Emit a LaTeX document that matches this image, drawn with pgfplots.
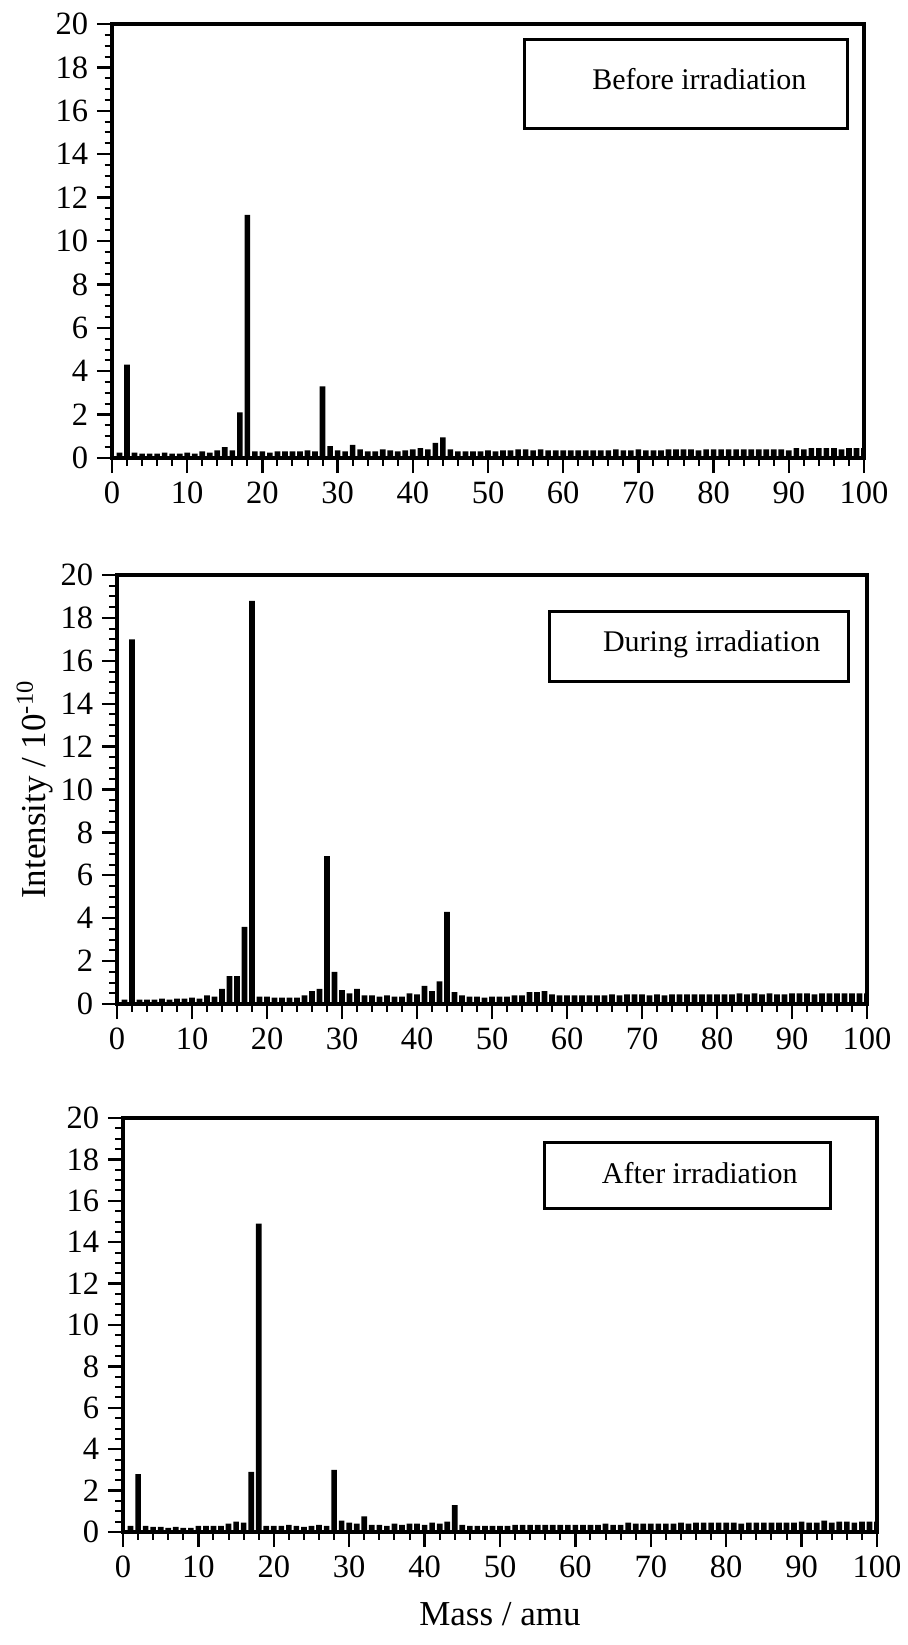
\documentclass[border=0pt]{standalone}
\usepackage{fontspec}
\setmainfont{Liberation Serif}
\usepackage{pgfplots}
\pgfplotsset{compat=1.18}

\pgfplotsset{
  spec/.style={
    scale only axis,
    xmin=0, xmax=100, ymin=0, ymax=20,
    xtick={0,10,...,100}, ytick={0,2,...,20},
    minor x tick num=4, minor y tick num=3,
    tick pos=left, tick align=outside,
    major tick length=6pt, minor tick length=3pt,
    axis line style={line width=1.3pt},
    every tick/.style={black, line width=0.9pt},
    every minor tick/.style={black, line width=0.8pt},
    tick label style={font=\fontsize{13}{15}\selectfont},
    /pgf/number format/assume math mode=true,
    label style={font=\fontsize{14}{16}\selectfont},
    ybar, bar width=0.75,
  },
}
\tikzset{
  tag/.style={draw, line width=1.2pt, anchor=north west, inner sep=0pt},
  peak/.style={black, fill=black, draw=none},
}

\begin{document}
\begin{tikzpicture}
\useasboundingbox (0,0) rectangle (363.2pt,-658pt);

% before irradiation
\begin{axis}[spec, at={(44.8pt,-183.2pt)}, anchor=south west,
  width=300.8pt, height=173.6pt]
\addplot[peak] coordinates {
(1,0.25)(2,4.3)(3,0.25)(4,0.2)(5,0.2)(6,0.2)(7,0.25)(8,0.2)(9,0.2)(10,0.25)
(11,0.2)(12,0.3)(13,0.25)(14,0.35)(15,0.5)(16,0.35)(17,2.1)(18,11.2)(19,0.3)(20,0.3)
(21,0.25)(22,0.3)(23,0.3)(24,0.3)(25,0.3)(26,0.35)(27,0.3)(28,3.3)(29,0.55)(30,0.35)
(31,0.3)(32,0.6)(33,0.4)(34,0.3)(35,0.3)(36,0.4)(37,0.35)(38,0.3)(39,0.35)(40,0.4)
(41,0.45)(42,0.4)(43,0.7)(44,0.95)(45,0.4)(46,0.3)(47,0.3)(48,0.3)(49,0.3)(50,0.35)
(51,0.3)(52,0.35)(53,0.35)(54,0.4)(55,0.4)(56,0.35)(57,0.4)(58,0.35)(59,0.35)(60,0.35)
(61,0.35)(62,0.35)(63,0.35)(64,0.35)(65,0.35)(66,0.35)(67,0.4)(68,0.35)(69,0.35)(70,0.4)
(71,0.35)(72,0.35)(73,0.35)(74,0.4)(75,0.4)(76,0.4)(77,0.4)(78,0.35)(79,0.4)(80,0.4)
(81,0.4)(82,0.4)(83,0.4)(84,0.4)(85,0.4)(86,0.4)(87,0.4)(88,0.4)(89,0.4)(90,0.35)
(91,0.45)(92,0.4)(93,0.45)(94,0.45)(95,0.45)(96,0.45)(97,0.4)(98,0.45)(99,0.45)(100,0.45)
};
\node[tag, minimum width=129.2pt, minimum height=35.6pt] at (rel axis cs:0.547,0.968) {};
\node[font=\fontsize{12}{14}\selectfont] at (rel axis cs:0.781,0.873) {Before irradiation};
\end{axis}

% during irradiation
\begin{axis}[spec, at={(46.8pt,-401.6pt)}, anchor=south west,
  width=300pt, height=171.6pt,
  ylabel={Intensity / 10\textsuperscript{-10}}, ylabel shift=-4pt]
\addplot[peak] coordinates {
(1,0.2)(2,17.0)(3,0.2)(4,0.2)(5,0.2)(6,0.25)(7,0.2)(8,0.25)(9,0.25)(10,0.3)
(11,0.25)(12,0.4)(13,0.35)(14,0.7)(15,1.3)(16,1.3)(17,3.6)(18,18.8)(19,0.35)(20,0.35)
(21,0.3)(22,0.3)(23,0.3)(24,0.3)(25,0.4)(26,0.6)(27,0.7)(28,6.9)(29,1.5)(30,0.65)
(31,0.5)(32,0.7)(33,0.4)(34,0.4)(35,0.35)(36,0.4)(37,0.35)(38,0.35)(39,0.5)(40,0.45)
(41,0.85)(42,0.6)(43,1.05)(44,4.3)(45,0.55)(46,0.4)(47,0.35)(48,0.35)(49,0.3)(50,0.35)
(51,0.35)(52,0.35)(53,0.4)(54,0.4)(55,0.55)(56,0.55)(57,0.6)(58,0.45)(59,0.4)(60,0.4)
(61,0.4)(62,0.4)(63,0.4)(64,0.4)(65,0.4)(66,0.45)(67,0.4)(68,0.45)(69,0.45)(70,0.45)
(71,0.4)(72,0.45)(73,0.4)(74,0.45)(75,0.45)(76,0.45)(77,0.45)(78,0.45)(79,0.45)(80,0.45)
(81,0.45)(82,0.45)(83,0.5)(84,0.45)(85,0.5)(86,0.45)(87,0.5)(88,0.45)(89,0.45)(90,0.5)
(91,0.5)(92,0.5)(93,0.45)(94,0.5)(95,0.5)(96,0.5)(97,0.5)(98,0.5)(99,0.5)(100,0.5)
};
\node[tag, minimum width=119.6pt, minimum height=28pt] at (rel axis cs:0.575,0.918) {};
\node[font=\fontsize{12}{14}\selectfont] at (rel axis cs:0.793,0.838) {During irradiation};
\end{axis}

% after irradiation
\begin{axis}[spec, at={(49.2pt,-612.8pt)}, anchor=south west,
  width=301.6pt, height=165.6pt,
  xlabel={Mass / amu}, xlabel style={yshift=-3pt}]
\addplot[peak] coordinates {
(1,0.3)(2,2.8)(3,0.3)(4,0.25)(5,0.25)(6,0.2)(7,0.25)(8,0.2)(9,0.2)(10,0.3)
(11,0.3)(12,0.3)(13,0.3)(14,0.4)(15,0.5)(16,0.45)(17,2.9)(18,14.9)(19,0.3)(20,0.3)
(21,0.3)(22,0.35)(23,0.3)(24,0.25)(25,0.3)(26,0.35)(27,0.3)(28,3.0)(29,0.55)(30,0.45)
(31,0.4)(32,0.75)(33,0.35)(34,0.35)(35,0.3)(36,0.4)(37,0.35)(38,0.4)(39,0.4)(40,0.35)
(41,0.45)(42,0.4)(43,0.5)(44,1.3)(45,0.35)(46,0.3)(47,0.3)(48,0.3)(49,0.3)(50,0.3)
(51,0.3)(52,0.35)(53,0.35)(54,0.35)(55,0.35)(56,0.35)(57,0.35)(58,0.35)(59,0.35)(60,0.35)
(61,0.35)(62,0.35)(63,0.35)(64,0.4)(65,0.35)(66,0.35)(67,0.45)(68,0.4)(69,0.4)(70,0.4)
(71,0.4)(72,0.4)(73,0.4)(74,0.45)(75,0.4)(76,0.45)(77,0.45)(78,0.45)(79,0.45)(80,0.45)
(81,0.45)(82,0.4)(83,0.45)(84,0.45)(85,0.45)(86,0.45)(87,0.45)(88,0.45)(89,0.45)(90,0.5)
(91,0.45)(92,0.45)(93,0.55)(94,0.45)(95,0.5)(96,0.5)(97,0.45)(98,0.5)(99,0.5)(100,0.5)
};
\node[tag, minimum width=114.4pt, minimum height=26.4pt] at (rel axis cs:0.557,0.944) {};
\node[font=\fontsize{12}{14}\selectfont] at (rel axis cs:0.765,0.868) {After irradiation};
\end{axis}
\end{tikzpicture}
\end{document}
